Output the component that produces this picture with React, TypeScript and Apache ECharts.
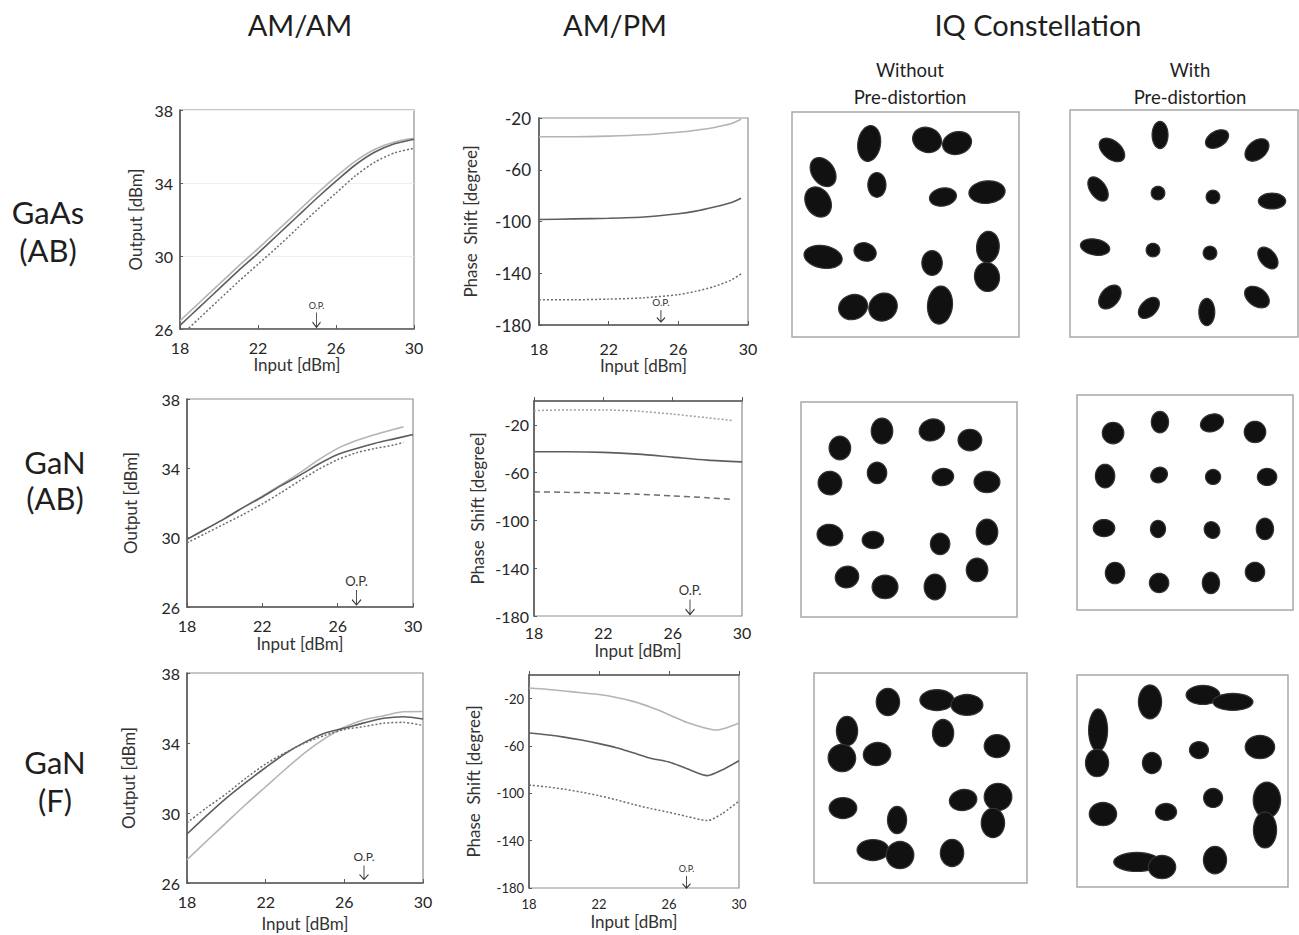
import React, { useEffect, useRef } from 'react';
import * as echarts from 'echarts';

const FONT = 'Lato, "Open Sans", sans-serif';

// ---------- AM/AM & AM/PM data (Input [dBm] -> Output [dBm] / Phase shift [deg]) ----------
const xFull = [18, 19, 20, 21, 22, 23, 24, 25, 26, 27, 28, 29, 30];

// GaAs (AB)
const gaasAmamLight = [26.45, 27.45, 28.45, 29.45, 30.4, 31.4, 32.4, 33.4, 34.35, 35.2, 35.85, 36.25, 36.45];
const gaasAmamDark = [26.2, 27.2, 28.2, 29.2, 30.15, 31.15, 32.15, 33.15, 34.1, 35.0, 35.7, 36.15, 36.4];
const gaasAmamDot = [25.6, 26.6, 27.6, 28.6, 29.55, 30.5, 31.5, 32.5, 33.45, 34.4, 35.15, 35.65, 35.9];
const gaasPmX = [18, 20, 22, 24, 26, 27, 28, 29, 29.6];
const gaasPmLight = [-34.5, -34.5, -34, -33, -31, -29.5, -27.5, -24.5, -21];
const gaasPmDark = [-98.5, -98, -97.5, -96.5, -94, -92, -89, -85.5, -82];
const gaasPmDot = [-160.5, -160.5, -160, -159, -156.5, -154, -150.5, -145.5, -140.5];

// GaN (AB)
const ganABLightX = [18, 19, 20, 21, 22, 23, 24, 25, 26, 27, 28, 29, 29.5];
const ganABAmamLight = [29.9, 30.5, 31.1, 31.75, 32.4, 33.05, 33.75, 34.5, 35.15, 35.6, 35.95, 36.25, 36.4];
const ganABAmamDark = [29.9, 30.5, 31.1, 31.75, 32.35, 33.0, 33.6, 34.25, 34.8, 35.15, 35.45, 35.7, 35.95];
const ganABAmamDot = [29.7, 30.25, 30.8, 31.35, 31.95, 32.6, 33.3, 33.95, 34.5, 34.9, 35.15, 35.35, 35.5];
const ganABPmX = [18, 20, 22, 24, 26, 28, 29.5];
const ganABPmDarkX = [18, 20, 22, 24, 26, 28, 30];
const ganABPmDot = [-8, -7.5, -7.5, -8.5, -11, -14, -16.5];
const ganABPmDark = [-42.5, -42.5, -43, -44.5, -47, -49.5, -51];
const ganABPmDash = [-76, -76.5, -77, -78, -79.5, -81, -82.5];

// GaN (F)
const ganFAmamLight = [27.33, 28.4, 29.45, 30.5, 31.5, 32.5, 33.45, 34.25, 34.9, 35.33, 35.56, 35.79, 35.8];
const ganFAmamDark = [28.8, 29.85, 30.85, 31.75, 32.6, 33.4, 34.05, 34.56, 34.85, 35.15, 35.41, 35.5, 35.37];
const ganFAmamDot = [29.44, 30.3, 31.1, 32.0, 32.8, 33.45, 34.0, 34.43, 34.77, 34.94, 35.13, 35.18, 35.0];
const ganFPmLightX = [18, 19, 20, 21, 22, 23, 24, 25, 26, 27, 28, 28.7, 29.3, 30];
const ganFPmLight = [-11, -12, -13.5, -15, -16.5, -19, -22.5, -27.5, -33.5, -40, -44.5, -46.5, -44.5, -40.5];
const ganFPmX = [18, 19, 20, 21, 22, 23, 24, 25, 26, 27, 28.2, 29, 30];
const ganFPmDark = [-49, -50.5, -52.5, -55, -58, -61.5, -66, -70.5, -73.5, -79, -85, -80.5, -72.5];
const ganFPmDot = [-93, -94.5, -96.5, -99, -102, -105.5, -109.5, -113, -116, -119.5, -123, -117.5, -106.5];

// operating points (O.P.) in dBm
const opInput = [25, 25, 27, 27, 27, 27];

// axis ticks
const inputTicks = { min: 18, max: 30, interval: 4 };
const outputTicks = { min: 26, max: 38, interval: 4 };
const phaseTicks = { min: -180, interval: 40 };

// ---------- IQ constellation clusters: [I, Q, spreadI, spreadQ, tiltDeg] (0..100 units) ----------
const gaasWithout = [
  [34, 86, 10, 16, -8], [59.5, 87.6, 13, 11, -20], [72.7, 86.2, 13, 10, 15], [13.7, 73.3, 14, 10, -55],
  [11.5, 60, 14, 11, -60], [37.4, 67.6, 8, 11, 0], [66.5, 62.2, 12, 8, 10], [85.9, 64.4, 16, 10, 5],
  [13.7, 35.6, 17, 10, -10], [32.2, 37.8, 10, 8, -20], [61.7, 32.9, 9, 11, 0], [86.3, 40, 10, 14, -5],
  [85.9, 26.7, 11, 13, 10], [26.9, 13.3, 13, 11, 20], [40.1, 13.3, 13, 12, 40], [65.2, 14.2, 11, 17, -5],
];
const gaasWith = [
  [18.4, 82.4, 13, 8, -40], [39.5, 89, 7, 12, 0], [64.5, 87.2, 11, 7, 30], [82, 82.4, 12, 8, 40],
  [12.3, 65.2, 12, 7, -55], [38.6, 63.4, 6, 6, 0], [62.7, 61.7, 6, 6, 0], [88.6, 59.9, 12, 7, 0],
  [11, 39.6, 13, 7, -10], [36.4, 38.3, 6, 6, 0], [61.4, 37, 6, 6, 0], [86.8, 34.8, 11, 7, -50],
  [17.5, 17.6, 12, 8, 50], [34.6, 12.8, 11, 7, 45], [60, 11, 7, 12, 0], [82, 17.6, 12, 8, -35],
];
const ganABWithout = [
  [18, 78.6, 10, 11, 0], [37.5, 86.5, 10, 12, 0], [60.6, 87, 12, 10, 20], [78.2, 82.3, 11, 10, 0],
  [13.4, 62.3, 11, 11, -20], [35.2, 67, 9, 10, 0], [65.7, 65.1, 10, 8, 10], [86.1, 62.8, 12, 10, 0],
  [13.4, 38.1, 12, 10, -10], [33.3, 35.8, 10, 8, 0], [64.4, 34, 9, 10, 0], [86.1, 39.5, 10, 12, 0],
  [21.3, 18.6, 11, 10, 20], [38.9, 14, 12, 11, 0], [62, 14, 10, 12, 0], [81.5, 21.9, 10, 11, 0],
];
const ganABWith = [
  [16.7, 82.3, 10, 10, 0], [38.4, 87.4, 8, 10, 0], [62.5, 87, 11, 8, 20], [82.4, 82.8, 10, 10, 0],
  [13, 62.3, 9, 11, 0], [38, 62.8, 8, 7, 30], [63, 61.9, 7, 7, 0], [88, 61.9, 9, 8, 0],
  [12.5, 38.1, 10, 8, 0], [37.5, 37.7, 7, 8, 0], [62.5, 37.2, 7, 8, 30], [87, 37.7, 8, 10, 0],
  [17.6, 17.2, 9, 10, 0], [38, 12.6, 9, 9, 0], [62, 12.6, 8, 10, 0], [82.4, 17.7, 9, 9, 0],
];
const ganFWithout = [
  [34.7, 86.2, 11, 13, 0], [57.7, 87.1, 16, 10, 0], [71.8, 84.8, 15, 10, 0], [15.5, 72.4, 10, 14, 0],
  [13.1, 59.5, 13, 13, -30], [29.6, 61.4, 13, 11, 10], [60.6, 71.4, 10, 13, 0], [85.9, 65.2, 12, 11, 0],
  [13.6, 35.7, 13, 10, 0], [39, 30, 9, 13, 0], [70, 39.5, 13, 10, 10], [86.4, 41, 13, 13, 0],
  [84, 28.6, 11, 14, 0], [27.7, 15.7, 15, 10, 0], [40.4, 13.3, 13, 13, 0], [64.8, 14.3, 11, 13, 0],
];
const ganFWith = [
  [34.6, 87.3, 11, 16, 0], [59.7, 90.6, 16, 9, 0], [73.9, 87.3, 19, 8, 0], [10, 74, 9, 20, 0],
  [9.5, 58.5, 11, 13, 0], [35.5, 58.5, 9, 10, 0], [57.8, 64.6, 9, 8, 0], [86.7, 66, 14, 11, 0],
  [12.3, 34.4, 13, 11, 0], [42.2, 35.4, 10, 8, 0], [64.5, 42, 9, 9, 0], [90, 41, 13, 17, 0],
  [89.1, 26.9, 11, 17, 0], [28.4, 11.8, 22, 9, 0], [40.3, 9.4, 13, 11, 0], [65.4, 12.7, 11, 13, 0],
];

// ---------- styles ----------
const LIGHT = { color: '#b4b4b4', width: 1.6, type: 'solid' };
const DARK = { color: '#5e5e5e', width: 1.6, type: 'solid' };
const DOT = { color: '#6e6e6e', width: 1.5, type: [2, 2] };
const DOTLIGHT = { color: '#a0a0a0', width: 1.5, type: [2, 2] };
const DASH = { color: '#6e6e6e', width: 1.5, type: [6, 4] };

const pair = (xs: number[], ys: number[]) => xs.map((x, i) => [x, ys[i]]);

function lineSeries(idx: number, xs: number[], ys: number[], style: any, extra: any = {}) {
  return {
    type: 'line', xAxisIndex: idx, yAxisIndex: idx, data: pair(xs, ys),
    symbol: 'none', showSymbol: false, smooth: 0.25, lineStyle: style, silent: true, clip: true, ...extra,
  };
}

function opMark(x: number, y: number, fontSize: number, size: number[]) {
  return {
    markPoint: {
      silent: true,
      symbol: 'path://M5 0 L5 14 M1 9 L5 14 L9 9',
      symbolSize: size,
      itemStyle: { color: 'transparent', borderColor: '#333', borderWidth: 1.1 },
      label: { show: true, formatter: 'O.P.', position: 'top', distance: 2, fontSize, color: '#333', fontFamily: FONT },
      data: [{ coord: [x, y] }],
    },
  };
}

function blobRender(params: any, api: any) {
  const c = api.coord([api.value(0), api.value(1)]);
  const s = api.size([api.value(2), api.value(3)]);
  const r = ((api.value(4) as number) || 0) * Math.PI / 180;
  const rx = s[0] / 2, ry = s[1] / 2;
  const pts: number[][] = [];
  const n = 32;
  for (let k = 0; k < n; k++) {
    const t = (k / n) * 2 * Math.PI;
    const ex = rx * Math.cos(t), ey = ry * Math.sin(t);
    pts.push([c[0] + ex * Math.cos(r) - ey * Math.sin(r), c[1] - (ex * Math.sin(r) + ey * Math.cos(r))]);
  }
  return {
    type: 'polygon', shape: { points: pts, smooth: 0 },
    style: { fill: '#111111', stroke: '#333333', lineWidth: 1.2 },
  };
}

export default function App() {
  const ref = useRef<HTMLDivElement>(null);
  useEffect(() => {
    if (!ref.current) return;
    const chart = echarts.init(ref.current, null, { renderer: 'svg' });

    const lineGrids = [
      { left: 180, top: 110, width: 234, height: 219 },
      { left: 539, top: 118, width: 209, height: 207 },
      { left: 187, top: 399, width: 226, height: 208 },
      { left: 534, top: 401, width: 208, height: 215 },
      { left: 187, top: 673, width: 236, height: 210 },
      { left: 529, top: 675, width: 210, height: 213 },
    ];
    const iqGrids = [
      { left: 792, top: 112, width: 227, height: 225 },
      { left: 1070, top: 110, width: 228, height: 227 },
      { left: 801, top: 402, width: 216, height: 215 },
      { left: 1077, top: 395, width: 216, height: 215 },
      { left: 814, top: 673, width: 213, height: 210 },
      { left: 1077, top: 675, width: 211, height: 212 },
    ];
    const grids = [
      ...lineGrids.map((g) => ({ ...g, show: true, borderColor: '#8f8f8f', borderWidth: 1.2, containLabel: false })),
      ...iqGrids.map((g) => ({ ...g, show: true, borderColor: '#a8a8a8', borderWidth: 1.5, containLabel: false })),
    ];

    // per-chart label settings
    const xCfg = [
      { fs: 16, margin: 10, gap: 27 },
      { fs: 16, margin: 15, gap: 32 },
      { fs: 16, margin: 10, gap: 28 },
      { fs: 16, margin: 8, gap: 26 },
      { fs: 16, margin: 10, gap: 32 },
      { fs: 13, margin: 9, gap: 25 },
    ];
    const yCfg = [
      { fs: 16, margin: 7, gap: 36, name: 'Output [dBm]', max: 38, nfs: 17 },
      { fs: 17, margin: 8, gap: 60, name: 'Phase  Shift [degree]', max: -20, nfs: 17 },
      { fs: 16, margin: 7, gap: 48, name: 'Output [dBm]', max: 38, nfs: 17 },
      { fs: 16, margin: 5, gap: 48, name: 'Phase  Shift [degree]', max: 0, nfs: 17 },
      { fs: 16, margin: 7, gap: 50, name: 'Output [dBm]', max: 38, nfs: 17 },
      { fs: 13, margin: 5, gap: 47, name: 'Phase  Shift [degree]', max: 0, nfs: 17 },
    ];

    const xAxes: any[] = lineGrids.map((_, i) => ({
      type: 'value', gridIndex: i, min: inputTicks.min, max: inputTicks.max, interval: inputTicks.interval,
      name: 'Input [dBm]', nameLocation: 'middle', nameGap: xCfg[i].gap,
      nameTextStyle: { fontSize: 17, color: '#333', fontFamily: FONT },
      axisLine: { show: true, lineStyle: { color: '#5a5a5a', width: 1.6 } },
      axisTick: { show: true, inside: true, length: 4, lineStyle: { color: '#5a5a5a' } },
      axisLabel: { fontSize: xCfg[i].fs, margin: xCfg[i].margin, color: '#262626', fontFamily: FONT },
      splitLine: { show: false },
    }));
    const yAxes: any[] = lineGrids.map((_, i) => {
      const isAm = i % 2 === 0;
      return {
        type: 'value', gridIndex: i,
        min: isAm ? outputTicks.min : phaseTicks.min, max: yCfg[i].max,
        interval: isAm ? outputTicks.interval : phaseTicks.interval,
        name: yCfg[i].name, nameLocation: 'middle', nameGap: yCfg[i].gap,
        nameTextStyle: { fontSize: yCfg[i].nfs, color: '#333', fontFamily: FONT },
        axisLine: { show: true, lineStyle: { color: '#5a5a5a', width: 1.6 } },
        axisTick: { show: true, inside: true, length: 3, lineStyle: { color: '#5a5a5a' } },
        axisLabel: { fontSize: yCfg[i].fs, margin: yCfg[i].margin, color: '#262626', fontFamily: FONT, showMaxLabel: yCfg[i].max !== 0 },
        splitLine: { show: i === 0, lineStyle: { color: '#efefef', width: 1 } },
      };
    });
    iqGrids.forEach((_, k) => {
      const gi = 6 + k;
      xAxes.push({ type: 'value', gridIndex: gi, min: 0, max: 100, show: false });
      yAxes.push({ type: 'value', gridIndex: gi, min: 0, max: 100, show: false });
    });

    const iqSets = [gaasWithout, gaasWith, ganABWithout, ganABWith, ganFWithout, ganFWith];

    const series: any[] = [
      // GaAs AM/AM
      lineSeries(0, xFull, gaasAmamLight, LIGHT),
      lineSeries(0, xFull, gaasAmamDark, DARK, opMark(opInput[0], 26.5, 9, [8, 15])),
      lineSeries(0, xFull, gaasAmamDot, DOT),
      // GaAs AM/PM
      lineSeries(1, gaasPmX, gaasPmLight, LIGHT),
      lineSeries(1, gaasPmX, gaasPmDark, DARK, opMark(opInput[1], -173, 10, [8, 12])),
      lineSeries(1, gaasPmX, gaasPmDot, DOT),
      // GaN AB AM/AM
      lineSeries(2, ganABLightX, ganABAmamLight, LIGHT),
      lineSeries(2, xFull, ganABAmamDark, DARK, opMark(opInput[2], 26.55, 13, [9, 15])),
      lineSeries(2, ganABLightX, ganABAmamDot, DOT),
      // GaN AB AM/PM
      lineSeries(3, ganABPmX, ganABPmDot, DOTLIGHT),
      lineSeries(3, ganABPmDarkX, ganABPmDark, DARK, opMark(opInput[3], -172.5, 13, [9, 15])),
      lineSeries(3, ganABPmX, ganABPmDash, DASH),
      // GaN F AM/AM
      lineSeries(4, xFull, ganFAmamLight, LIGHT),
      lineSeries(4, xFull, ganFAmamDark, DARK, opMark(opInput[4], 26.6, 12, [9, 14])),
      lineSeries(4, xFull, ganFAmamDot, DOT),
      // GaN F AM/PM
      lineSeries(5, ganFPmLightX, ganFPmLight, LIGHT),
      lineSeries(5, ganFPmX, ganFPmDark, DARK, opMark(opInput[5], -175, 9, [8, 12])),
      lineSeries(5, ganFPmX, ganFPmDot, DOT),
      // constellations
      ...iqSets.map((d, k) => ({
        type: 'custom', xAxisIndex: 6 + k, yAxisIndex: 6 + k, data: d, renderItem: blobRender, silent: true,
        encode: { x: 0, y: 1 }, clip: true,
      })),
    ];

    const txt = (text: string, x: number, y: number, fontSize: number, lineHeight?: number) => ({
      type: 'text', x, y, silent: true,
      style: { text, fontSize, fontFamily: FONT, fill: '#1e1e1e', align: 'center', verticalAlign: 'middle', lineHeight: lineHeight || fontSize * 1.2 },
    });

    chart.setOption({
      animation: false,
      backgroundColor: '#ffffff',
      grid: grids,
      xAxis: xAxes,
      yAxis: yAxes,
      series,
      graphic: [
        txt('AM/AM', 300, 24, 29),
        txt('AM/PM', 615, 24, 29),
        txt('IQ Constellation', 1038, 24, 29),
        txt('Without\nPre-distortion', 910, 83, 18.5, 27),
        txt('With\nPre-distortion', 1190, 83, 18.5, 27),
        txt('GaAs\n(AB)', 48, 231, 31, 38),
        txt('GaN\n(AB)', 55, 480, 31, 36),
        txt('GaN\n(F)', 55, 781, 31, 38),
      ],
    });
    return () => chart.dispose();
  }, []);
  return <div ref={ref} style={{ position: 'absolute', left: 0, top: 0, width: 1299, height: 935, background: '#fff' }} />;
}
